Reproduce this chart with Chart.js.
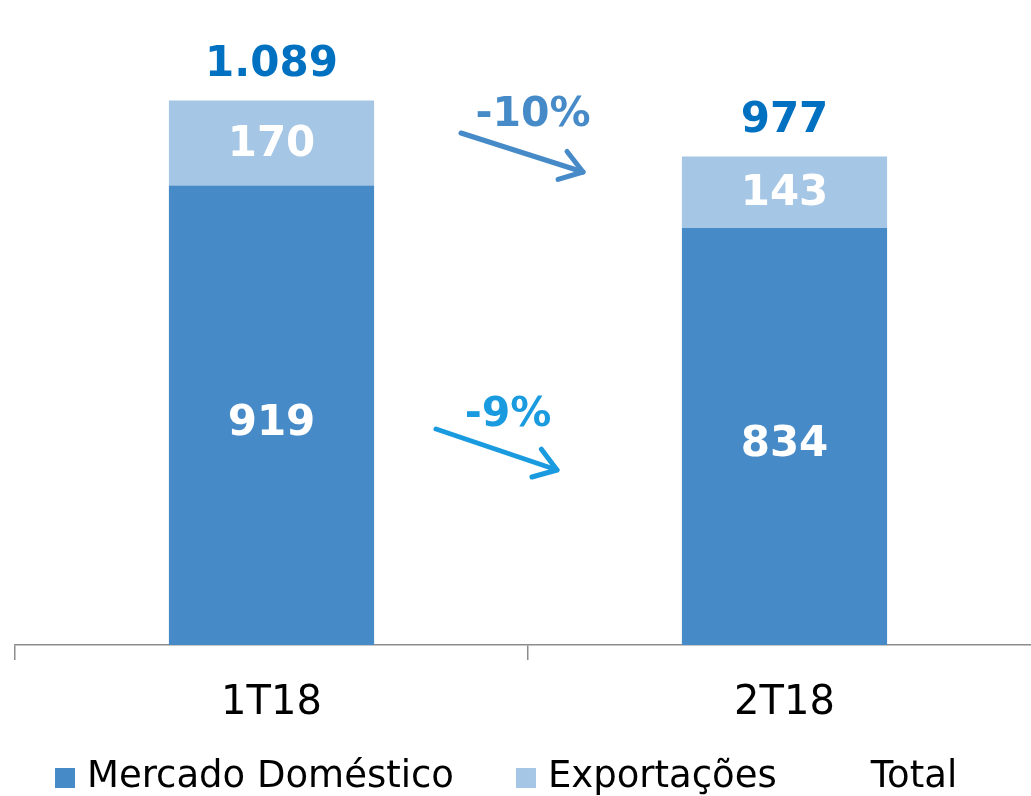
<!DOCTYPE html>
<html><head><meta charset="utf-8">
<script src="https://cdn.jsdelivr.net/npm/chart.js@4/dist/chart.umd.min.js"></script>
<style>
html,body{margin:0;padding:0;overflow:hidden;background:#fff;width:1031px;height:796px}
#wrap{position:relative;width:1060px;height:796px}
</style></head>
<body><div id="wrap"><canvas id="c" width="1060" height="796"></canvas></div>
<script>
const categories = ['1T18', '2T18'];
const domestico = [919, 834];
const exportacoes = [170, 143];
const total = [1089, 977];
const seriesNames = ['Mercado Doméstico', 'Exportações', 'Total'];
const changeLabels = ['-10%', '-9%'];

const COL_DOM = '#468BC7';
const COL_EXP = '#A5C6E4';
const COL_TOT = '#0070C0';
const COL_CHG = ['#468BC7', '#1A9BDF'];

function fmt(v) { return String(v).replace(/\B(?=(\d{3})+(?!\d))/g, '.'); }

const labelPlugin = {
  id: 'labels',
  afterDatasetsDraw(chart) {
    const ctx = chart.ctx;
    ctx.save();
    ctx.textAlign = 'center';
    ctx.textBaseline = 'middle';
    ctx.font = 'bold 42px "DejaVu Sans"';
    const offs = [9, 2];
    [0, 1].forEach(di => {
      const meta = chart.getDatasetMeta(di);
      meta.data.forEach((el, i) => {
        const v = chart.data.datasets[di].data[i];
        ctx.fillStyle = '#FFFFFF';
        ctx.fillText(fmt(v), el.x, (el.y + el.base) / 2 + offs[di]);
      });
    });
    const tm = chart.getDatasetMeta(2);
    tm.data.forEach((el, i) => {
      const v = chart.data.datasets[2].data[i];
      ctx.fillStyle = COL_TOT;
      ctx.fillText(fmt(v), el.x, el.y - 35);
    });
    // change arrows
    const xs = chart.scales.x, ys = chart.scales.y;
    const mid = (xs.getPixelForValue(0) + xs.getPixelForValue(1)) / 2;
    const arrows = [
      {x0: -67, x1: 55, v0: 1024, v1: 946, lx: 5, lv: 1060},
      {x0: -92, x1: 29, v0: 432, v1: 350, lx: -20, lv: 460}
    ];
    arrows.forEach((a, k) => {
      const x0 = mid + a.x0, x1 = mid + a.x1;
      const y0 = ys.getPixelForValue(a.v0), y1 = ys.getPixelForValue(a.v1);
      ctx.strokeStyle = COL_CHG[k];
      ctx.lineWidth = 5;
      ctx.lineCap = 'round';
      ctx.lineJoin = 'round';
      ctx.beginPath();
      ctx.moveTo(x0, y0); ctx.lineTo(x1, y1); ctx.stroke();
      const ang = Math.atan2(y1 - y0, x1 - x0);
      const L = 26, sp = 0.6;
      ctx.beginPath();
      ctx.moveTo(x1 - L * Math.cos(ang - sp), y1 - L * Math.sin(ang - sp));
      ctx.lineTo(x1, y1);
      ctx.lineTo(x1 - L * Math.cos(ang + sp), y1 - L * Math.sin(ang + sp));
      ctx.stroke();
      ctx.fillStyle = COL_CHG[k];
      ctx.font = 'bold 41px "DejaVu Sans"';
      ctx.fillText(changeLabels[k], mid + a.lx, ys.getPixelForValue(a.lv));
    });
    ctx.restore();
  },
  afterDraw(chart) {
    const ctx = chart.ctx;
    ctx.save();
    ctx.font = '37px "DejaVu Sans"';
    ctx.textBaseline = 'alphabetic';
    ctx.textAlign = 'left';
    let x = 55;
    const colors = [COL_DOM, COL_EXP, null];
    seriesNames.forEach((name, i) => {
      if (colors[i]) { ctx.fillStyle = colors[i]; ctx.fillRect(x, 768, 20, 20); }
      ctx.fillStyle = '#000';
      ctx.fillText(name, x + 32, 787);
      x += 32 + ctx.measureText(name).width + 62;
    });
    ctx.restore();
  }
};

new Chart(document.getElementById('c'), {
  type: 'bar',
  data: {
    labels: categories,
    datasets: [
      {label: seriesNames[0], data: domestico, backgroundColor: COL_DOM, stack: 's', barPercentage: 0.4, categoryPercentage: 1},
      {label: seriesNames[1], data: exportacoes, backgroundColor: COL_EXP, stack: 's', barPercentage: 0.4, categoryPercentage: 1},
      {label: seriesNames[2], data: total, type: 'line', showLine: false, pointRadius: 0, borderColor: 'transparent', backgroundColor: 'transparent', stack: 't'}
    ]
  },
  options: {
    responsive: false,
    animation: false,
    layout: {padding: {left: 15, right: 19, top: 0, bottom: 81}},
    plugins: {legend: {display: false}, tooltip: {enabled: false}},
    scales: {
      x: {
        stacked: true,
        offset: true,
        grid: {offset: true, drawOnChartArea: false, tickLength: 15, color: '#8C8C8C', lineWidth: 1.5},
        border: {display: true, color: '#8C8C8C', width: 1.5},
        ticks: {font: {family: 'DejaVu Sans', size: 40}, color: '#000', padding: 20},
        afterFit(s) { s.height = 70; }
      },
      y: {display: false, stacked: true, min: 0, max: 1290}
    }
  },
  plugins: [labelPlugin]
});
</script></body></html>
